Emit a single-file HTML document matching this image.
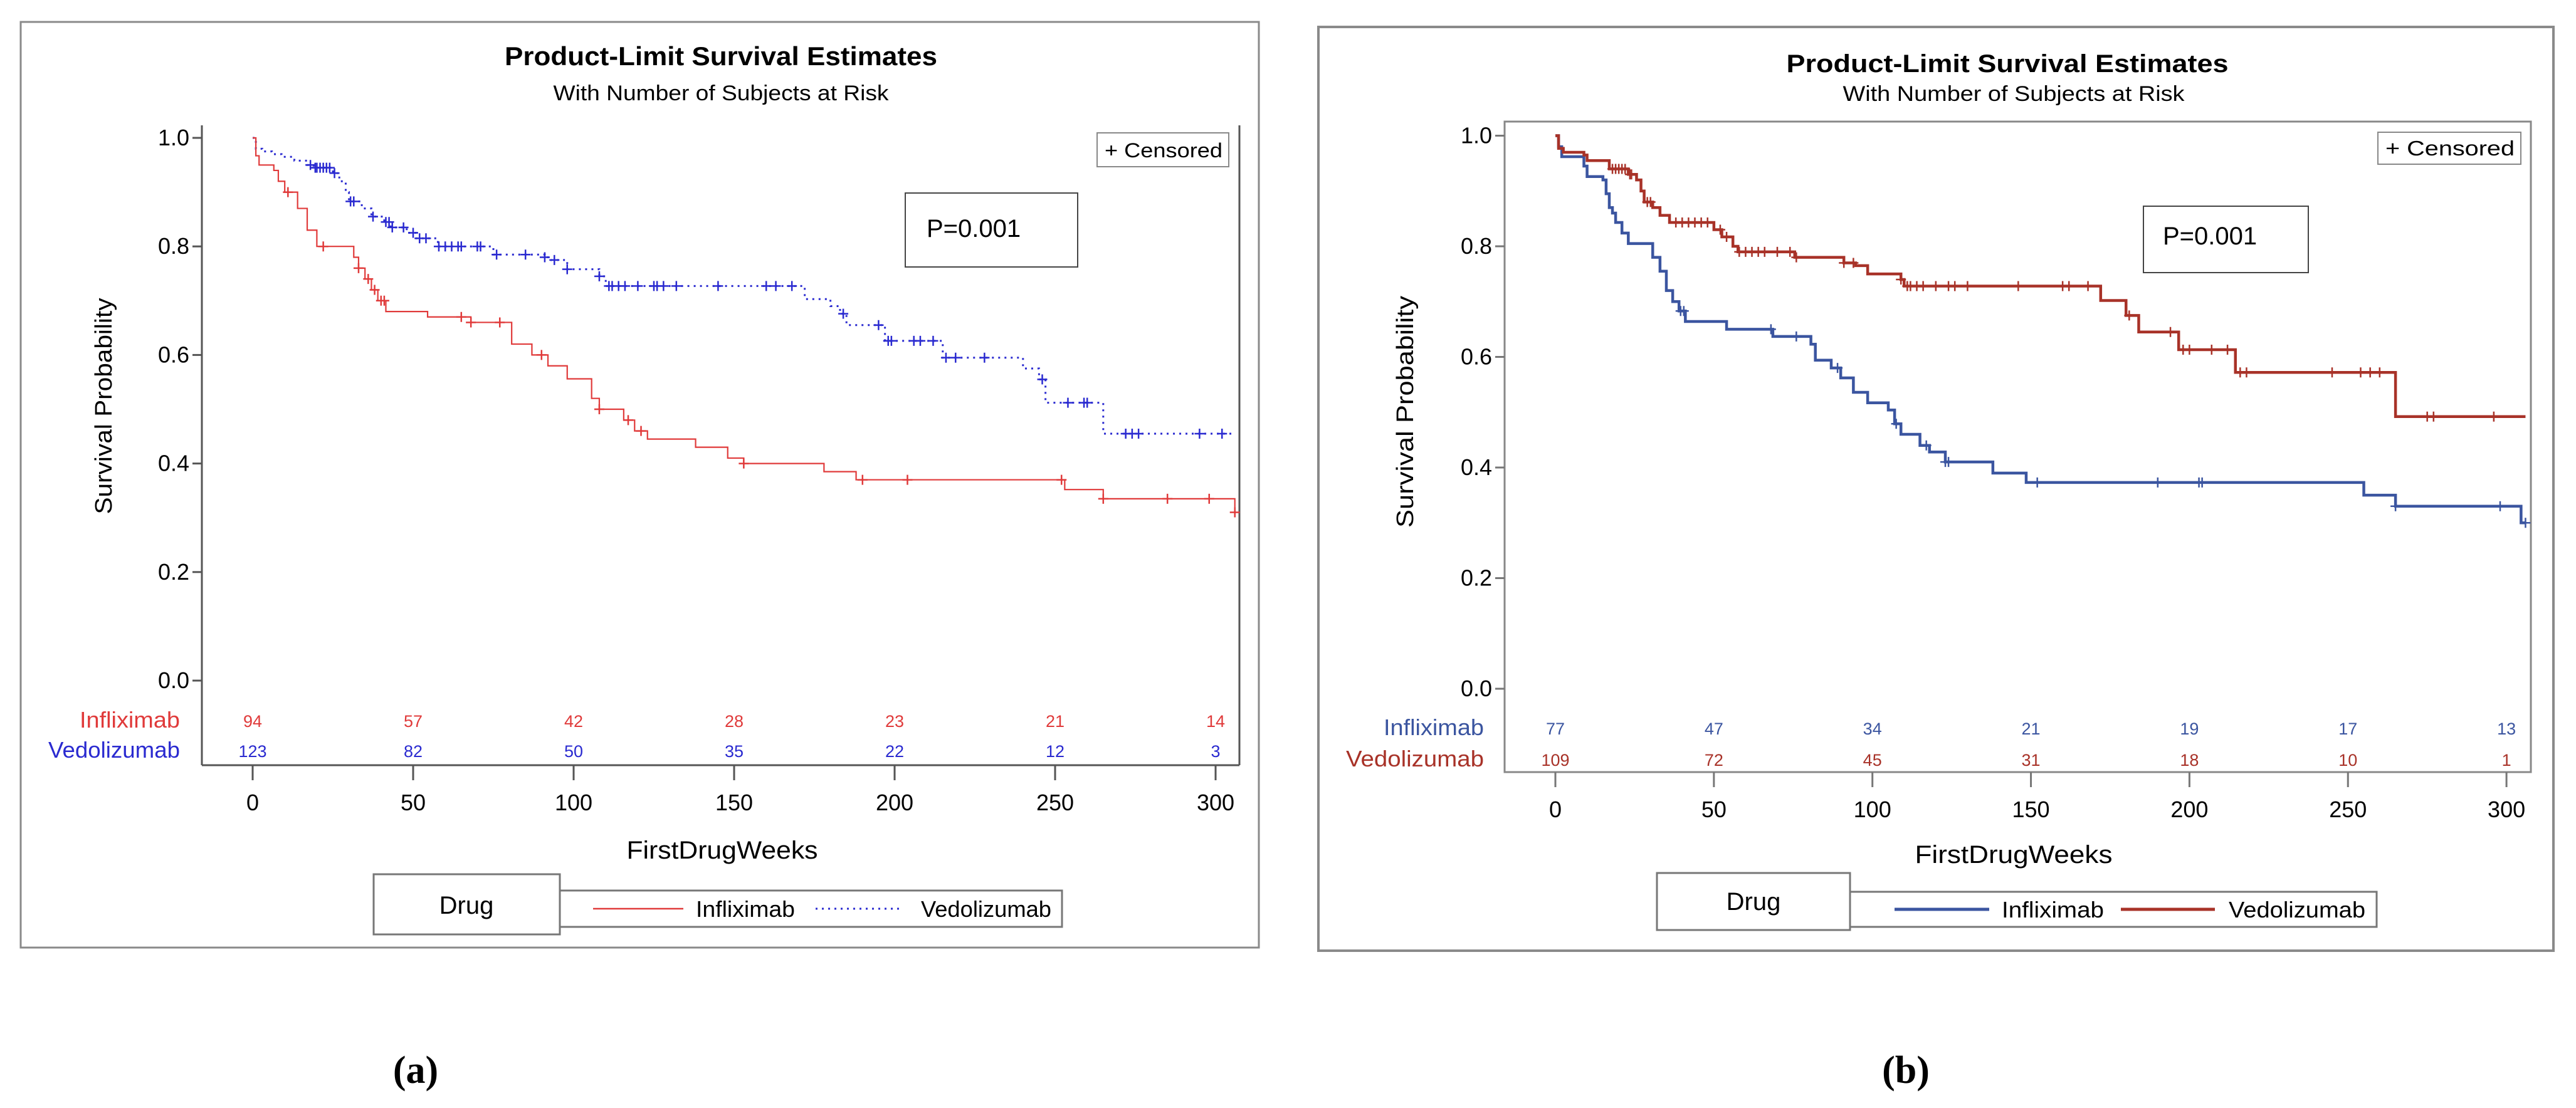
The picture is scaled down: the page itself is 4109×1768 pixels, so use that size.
<!DOCTYPE html>
<html><head><meta charset="utf-8"><style>
html,body{margin:0;padding:0;background:#fff;}
svg{display:block;font-family:"Liberation Sans",Arial,sans-serif;}
</style></head><body>
<svg id="fig" width="4109" height="1768" viewBox="0 0 4109 1768" xmlns="http://www.w3.org/2000/svg">
<rect x="0" y="0" width="4109" height="1768" fill="#fff"/>
<!-- Panel A static -->
<g>
<rect x="33" y="35" width="1975" height="1477" fill="none" stroke="#8a8a8a" stroke-width="3"/>
<text x="1150" y="104" text-anchor="middle" font-size="42" font-weight="bold" textLength="690" lengthAdjust="spacingAndGlyphs">Product-Limit Survival Estimates</text>
<text x="1150" y="160" text-anchor="middle" font-size="34" textLength="535" lengthAdjust="spacingAndGlyphs">With Number of Subjects at Risk</text>
<line x1="322" y1="200" x2="322" y2="1221" stroke="#555" stroke-width="3"/>
<line x1="322" y1="1221" x2="1977" y2="1221" stroke="#555" stroke-width="3"/>
<line x1="1977" y1="200" x2="1977" y2="1221" stroke="#555" stroke-width="3"/>
<text transform="translate(178,648) rotate(-90)" text-anchor="middle" font-size="38" textLength="345" lengthAdjust="spacingAndGlyphs">Survival Probability</text>
<text x="1152" y="1370" text-anchor="middle" font-size="40" textLength="305" lengthAdjust="spacingAndGlyphs">FirstDrugWeeks</text>
<rect x="1750" y="212" width="210" height="54" fill="#fff" stroke="#888" stroke-width="2"/>
<text x="1762" y="251" font-size="32" textLength="188" lengthAdjust="spacingAndGlyphs">+ Censored</text>
<rect x="1444" y="308" width="275" height="118" fill="#fff" stroke="#444" stroke-width="2"/>
<text x="1478" y="378" font-size="40">P=0.001</text>
<rect x="596" y="1395" width="297" height="96" fill="#fff" stroke="#777" stroke-width="3"/>
<text x="744" y="1458" text-anchor="middle" font-size="40">Drug</text>
<rect x="893" y="1421" width="801" height="58" fill="#fff" stroke="#777" stroke-width="3"/>
<line x1="946" y1="1450" x2="1090" y2="1450" stroke="#e03a3a" stroke-width="2.5"/>
<text x="1110" y="1463" font-size="36" textLength="158" lengthAdjust="spacingAndGlyphs">Infliximab</text>
<line x1="1301" y1="1450" x2="1441" y2="1450" stroke="#2a2ad0" stroke-width="3" stroke-dasharray="3 7"/>
<text x="1469" y="1463" font-size="36" textLength="208" lengthAdjust="spacingAndGlyphs">Vedolizumab</text>
<text x="287" y="1161" text-anchor="end" font-size="36" fill="#e03a3a" textLength="160" lengthAdjust="spacingAndGlyphs">Infliximab</text>
<text x="287" y="1209" text-anchor="end" font-size="36" fill="#2a2ad0" textLength="210" lengthAdjust="spacingAndGlyphs">Vedolizumab</text>
<text x="663" y="1728" text-anchor="middle" font-family="Liberation Serif, serif" font-weight="bold" font-size="62">(a)</text>
</g>
<!-- Panel B static -->
<g>
<rect x="2103" y="43" width="1970" height="1474" fill="none" stroke="#8a8a8a" stroke-width="4"/>
<text x="3202" y="115" text-anchor="middle" font-size="40" font-weight="bold" textLength="705" lengthAdjust="spacingAndGlyphs">Product-Limit Survival Estimates</text>
<text x="3212" y="161" text-anchor="middle" font-size="34" textLength="545" lengthAdjust="spacingAndGlyphs">With Number of Subjects at Risk</text>
<rect x="2400" y="194" width="1637" height="1038" fill="none" stroke="#888" stroke-width="3"/>
<text transform="translate(2254,657) rotate(-90)" text-anchor="middle" font-size="38" textLength="370" lengthAdjust="spacingAndGlyphs">Survival Probability</text>
<text x="3212" y="1377" text-anchor="middle" font-size="40" textLength="315" lengthAdjust="spacingAndGlyphs">FirstDrugWeeks</text>
<rect x="3793" y="211" width="228" height="51" fill="#fff" stroke="#888" stroke-width="2"/>
<text x="3805" y="248" font-size="33" textLength="206" lengthAdjust="spacingAndGlyphs">+ Censored</text>
<rect x="3419" y="329" width="263" height="106" fill="#fff" stroke="#444" stroke-width="2"/>
<text x="3450" y="390" font-size="40">P=0.001</text>
<rect x="2643" y="1393" width="308" height="91" fill="#fff" stroke="#777" stroke-width="3"/>
<text x="2797" y="1452" text-anchor="middle" font-size="40">Drug</text>
<rect x="2951" y="1423" width="840" height="56" fill="#fff" stroke="#777" stroke-width="3"/>
<line x1="3022" y1="1451" x2="3173" y2="1451" stroke="#3b55a0" stroke-width="5"/>
<text x="3193" y="1464" font-size="36" textLength="163" lengthAdjust="spacingAndGlyphs">Infliximab</text>
<line x1="3383" y1="1451" x2="3533" y2="1451" stroke="#a83228" stroke-width="5"/>
<text x="3555" y="1464" font-size="36" textLength="218" lengthAdjust="spacingAndGlyphs">Vedolizumab</text>
<text x="2367" y="1173" text-anchor="end" font-size="36" fill="#3b55a0" textLength="160" lengthAdjust="spacingAndGlyphs">Infliximab</text>
<text x="2367" y="1223" text-anchor="end" font-size="36" fill="#a83228" textLength="220" lengthAdjust="spacingAndGlyphs">Vedolizumab</text>
<text x="3040" y="1728" text-anchor="middle" font-family="Liberation Serif, serif" font-weight="bold" font-size="62">(b)</text>
</g>
<g id="dyn"></g>
</svg>
<script>
const xTicks=[0,50,100,150,200,250,300];
const yTicks=[0,0.2,0.4,0.6,0.8,1.0];
const yTickLabels=["0.0","0.2","0.4","0.6","0.8","1.0"];
// Panel A
const aInfTimes=[0,1,2,6.6,8,10,14,17,20,31.5,33,35,37,39,41.5,54.5,68,80.7,87,92,98,105.6,108,115.6,119,123,138,148,153,178,188,253,265,306];
const aInfSurv=[1,0.967,0.95,0.94,0.92,0.9,0.87,0.83,0.80,0.78,0.76,0.74,0.72,0.70,0.68,0.67,0.66,0.62,0.60,0.58,0.556,0.52,0.50,0.48,0.46,0.445,0.43,0.41,0.40,0.385,0.37,0.352,0.335,0.31];
const aInfCens=[11,22,33,36,38,40,41,65,68,77,90,108,117,121,153,190,204,252,265,285,298,306];
const aVedTimes=[0,1,3,6,9,13,17,19,25,27,29,30,34,37,41,43,48,51,57.7,75,91,93,98,108,110,172,180,183,185,197,215,240,245,247,265];
const aVedSurv=[1,0.98,0.975,0.97,0.965,0.958,0.95,0.945,0.935,0.92,0.90,0.883,0.87,0.855,0.845,0.835,0.825,0.815,0.80,0.785,0.78,0.775,0.758,0.745,0.727,0.703,0.69,0.676,0.655,0.626,0.595,0.575,0.555,0.512,0.455];
const aVedCens=[18,19.5,20,21,22,23,24,25.5,30.5,31.5,37.5,41.5,42.5,43.5,47,50,52,54,58,60,62,64,65,70,71,76,85,91,94,98,108,111,112,114,116,120,125,126,128,132,145,160,163,168,184,195,198,199,206,208,212,216,219,228,246,254,259,260,272,274,276,295,302];
const aInfRisk=[94,57,42,28,23,21,14];
const aVedRisk=[123,82,50,35,22,12,3];
// Panel B
const bInfTimes=[0,1,2,9,10,15,16,17,18,19,21,23,30.7,33,35,37,39,41,54,68.6,80.6,82,87,90,94,98.5,105,107,109,115,118,123,138,148.5,255,265,304.6];
const bInfSurv=[1,0.98,0.962,0.945,0.926,0.92,0.895,0.87,0.86,0.843,0.824,0.805,0.78,0.755,0.72,0.70,0.683,0.664,0.65,0.637,0.623,0.594,0.58,0.562,0.536,0.517,0.504,0.479,0.46,0.44,0.428,0.41,0.39,0.373,0.35,0.33,0.30];
const bInfCens=[39.5,40.5,68,76,89,107.5,117,123,124,152,190,203,204,265,298,306];
const bVedTimes=[0,1,2.5,9,10,17,23,25.6,27,28,30.7,33,36,50,52.5,56,57.6,75.5,91,94.7,98.5,109,110,172,180,184,196.6,214.5,265];
const bVedSurv=[1,0.977,0.97,0.965,0.955,0.94,0.93,0.92,0.90,0.88,0.87,0.856,0.843,0.83,0.817,0.80,0.79,0.78,0.77,0.765,0.75,0.74,0.728,0.702,0.675,0.645,0.613,0.572,0.492];
const bVedCens=[18,19,20,21,22,23.5,24,29,30,38,40,42,44,46,48,52,54,58,60,62,64,66,70,74,76,91,94,109,111,112,114,116,120,124,126,130,146,160,162,168,181,194,198,200,207,212,216,218,245,254,257,260,275,277,296];
const bInfRisk=[77,47,34,21,19,17,13];
const bVedRisk=[109,72,45,31,18,10,1];

const NS="http://www.w3.org/2000/svg";
const root=document.getElementById('dyn');
function mk(tag,attrs,parent){const e=document.createElementNS(NS,tag);for(const k in attrs)e.setAttribute(k,attrs[k]);(parent||root).appendChild(e);return e;}
function survAt(times,surv,t){let s=surv[0];for(let i=0;i<times.length;i++){if(times[i]<=t)s=surv[i];}return s;}

function panel(p,id){
  const X=w=>p.x0+w*p.xs, Y=s=>p.y0-s*p.ys;
  const g=mk('g',{});
  
  
  yTicks.forEach((v,i)=>{
    const t=mk('line',{x1:p.axX-15,x2:p.axX,y1:Y(v),y2:Y(v),stroke:p.axc,'stroke-width':3},g);
    
    
    const l=mk('text',{x:p.axX-20,y:Y(v)+12,'text-anchor':'end','font-size':36},g);
    l.textContent=yTickLabels[i];
    
    
  });
  xTicks.forEach((v,i)=>{
    const t=mk('line',{x1:X(v),x2:X(v),y1:p.axY,y2:p.axY+24,stroke:p.axc,'stroke-width':3},g);
    
    
    const l=mk('text',{x:X(v),y:p.axY+72,'text-anchor':'middle','font-size':36},g);
    l.textContent=String(v);
    
    
    const r1=mk('text',{x:X(v),y:p.r1,'text-anchor':'middle','font-size':27,fill:p.c1},g);
    r1.textContent=String(p.risk1[i]);
    
    
    const r2=mk('text',{x:X(v),y:p.r2,'text-anchor':'middle','font-size':27,fill:p.c2},g);
    r2.textContent=String(p.risk2[i]);
    
    
  });
  p.series.forEach(s=>{
    let d='M'+X(s.t[0])+' '+Y(s.s[0]);
    for(let i=1;i<s.t.length;i++){d+=' H'+X(s.t[i])+' V'+Y(s.s[i]);}
    d+=' H'+X(Math.max(306,s.t[s.t.length-1]));
    const path=mk('path',{d:d,fill:'none',stroke:s.c,'stroke-width':s.w,'stroke-dasharray':s.dash||'none'},g);
    
    
    s.cens.forEach(t=>{
      const cx=X(t), cy=Y(survAt(s.t,s.s,t));
      const m=mk('path',{d:'M'+(cx-8)+' '+cy+' H'+(cx+8)+' M'+cx+' '+(cy-8)+' V'+(cy+8),stroke:s.c,'stroke-width':2.5,fill:'none'},g);
      
      
    });
  });
}
panel({x0:403,xs:5.12,y0:1086,ys:866,axX:322,axY:1221,axc:'#555',r1:1160,r2:1208,
  c1:'#e03a3a',c2:'#2a2ad0',n1:'infliximab',n2:'vedolizumab',risk1:aInfRisk,risk2:aVedRisk,
  series:[{n:'vedolizumab',t:aVedTimes,s:aVedSurv,cens:aVedCens,c:'#2a2ad0',w:3,dash:'3 7'},
          {n:'infliximab',t:aInfTimes,s:aInfSurv,cens:aInfCens,c:'#e03a3a',w:2.2}]},'panel-a');
panel({x0:2481,xs:5.057,y0:1099,ys:882.5,axX:2400,axY:1232,axc:'#777',r1:1172,r2:1222,
  c1:'#3b55a0',c2:'#a83228',n1:'infliximab',n2:'vedolizumab',risk1:bInfRisk,risk2:bVedRisk,
  series:[{n:'infliximab',t:bInfTimes,s:bInfSurv,cens:bInfCens,c:'#3b55a0',w:4.5},
          {n:'vedolizumab',t:bVedTimes,s:bVedSurv,cens:bVedCens,c:'#a83228',w:4.5}]},'panel-b');
</script>
</body></html>
